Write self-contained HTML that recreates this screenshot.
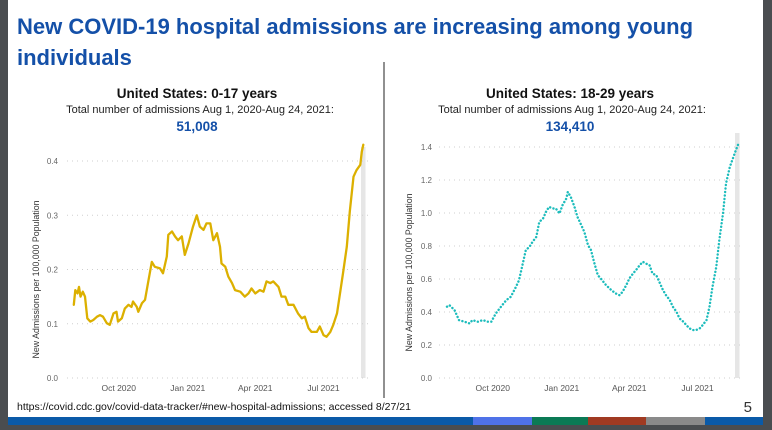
<!DOCTYPE html>
<html><head><meta charset="utf-8"><style>
html,body{margin:0;padding:0;background:#4a4d50;}
svg{display:block;font-family:"Liberation Sans",sans-serif;}
</style></head><body>
<svg width="772" height="430" viewBox="0 0 772 430">
<rect x="8" y="0" width="755" height="425" fill="#fff"/>
<text x="17" y="34" font-size="22" font-weight="bold" fill="#1450a8">New COVID-19 hospital admissions are increasing among young</text>
<text x="17" y="65" font-size="22" font-weight="bold" fill="#1450a8">individuals</text>
<line x1="384" y1="62" x2="384" y2="398" stroke="#222" stroke-width="1"/>

<text x="197" y="98" font-size="13.5" font-weight="bold" text-anchor="middle" fill="#111">United States: 0-17 years</text>
<text x="200" y="113" font-size="11" text-anchor="middle" fill="#222">Total number of admissions Aug 1, 2020-Aug 24, 2021:</text>
<text x="197" y="131" font-size="13.5" font-weight="bold" text-anchor="middle" fill="#1450a8">51,008</text>

<text x="570" y="98" font-size="13.5" font-weight="bold" text-anchor="middle" fill="#111">United States: 18-29 years</text>
<text x="572" y="113" font-size="11" text-anchor="middle" fill="#222">Total number of admissions Aug 1, 2020-Aug 24, 2021:</text>
<text x="570" y="131" font-size="13.5" font-weight="bold" text-anchor="middle" fill="#1450a8">134,410</text>

<g id="leftChart"></g>
<g id="rightChart"></g>

<text x="17" y="410" font-size="10.5" fill="#111">https://covid.cdc.gov/covid-data-tracker/#new-hospital-admissions; accessed 8/27/21</text>
<text x="752" y="412" font-size="15" text-anchor="end" fill="#333">5</text>
<rect x="8" y="417" width="755" height="8" fill="#0a5aa8"/>
<rect x="473" y="417" width="59" height="8" fill="#4f72e8"/>
<rect x="532" y="417" width="56" height="8" fill="#0b7a55"/>
<rect x="588" y="417" width="58" height="8" fill="#a03a22"/>
<rect x="646" y="417" width="59" height="8" fill="#8a8a8a"/>
</svg>
<script>
// days since Aug 1, 2020
const leftDays=[1,3,6,8,10,13,16,19,23,27,32,36,40,45,49,54,58,60,65,69,74,78,80,85,87,92,96,100,105,109,116,120,125,127,132,136,140,145,149,154,160,165,169,174,178,183,187,192,196,198,203,207,212,216,223,229,234,238,243,249,254,258,263,267,274,278,283,287,294,300,305,309,314,318,325,329,334,338,343,347,352,356,360,365,369,374,378,383,385,387];
const leftValues=[.135,.162,.156,.168,.150,.159,.150,.110,.104,.107,.113,.116,.113,.101,.098,.119,.122,.104,.110,.128,.135,.131,.141,.131,.122,.138,.144,.175,.214,.205,.202,.193,.224,.264,.270,.261,.254,.261,.227,.248,.279,.300,.279,.273,.285,.285,.254,.267,.242,.211,.205,.187,.175,.162,.159,.150,.156,.165,.156,.162,.159,.178,.175,.178,.168,.150,.150,.135,.135,.119,.110,.113,.092,.085,.085,.095,.079,.076,.085,.098,.119,.156,.193,.242,.307,.371,.383,.393,.417,.430];
const leftYTicks=[0.0,0.1,0.2,0.3,0.4];
const rightDays=[0,3,10,16,23,30,34,41,48,54,59,65,72,79,85,92,96,101,105,110,114,119,123,128,132,136,141,145,150,154,159,161,165,170,174,179,183,188,192,196,201,205,212,219,225,230,234,239,243,248,252,257,261,265,270,274,279,283,288,292,297,301,306,310,315,319,323,328,332,337,341,346,350,354,359,363,368,372,377,381,385,389];
const rightValues=[.432,.442,.412,.351,.341,.331,.351,.341,.351,.341,.341,.391,.432,.472,.492,.553,.593,.694,.775,.795,.825,.855,.946,.966,1.007,1.037,1.027,1.027,.997,1.047,1.087,1.128,1.097,1.037,.976,.926,.886,.805,.775,.704,.623,.603,.563,.533,.512,.502,.522,.563,.603,.633,.654,.684,.704,.694,.684,.633,.623,.583,.533,.502,.472,.432,.401,.361,.341,.321,.301,.290,.290,.301,.321,.351,.432,.553,.674,.835,.997,1.178,1.279,1.329,1.380,1.424];
const rightYTicks=[0.0,0.2,0.4,0.6,0.8,1.0,1.2,1.4];
const xTickLabels=["Oct 2020","Jan 2021","Apr 2021","Jul 2021"];
const xTickDays=[61,153,243,334];

const NS="http://www.w3.org/2000/svg";
function mk(tag,attrs,parent){const e=document.createElementNS(NS,tag);for(const k in attrs)e.setAttribute(k,attrs[k]);parent.appendChild(e);return e;}

function drawChart(g,cfg){
  const xS=d=>cfg.x0+d*0.75;
  const yS=v=>cfg.yBottom-(v/cfg.yMax)*(cfg.yBottom-cfg.yTop);
  const band=mk('rect',{x:xS(384),y:cfg.yTop-14,width:4.5,height:cfg.yBottom-cfg.yTop+14,fill:'#e6e6e6'},g);
  
  
  cfg.ticks.forEach(t=>{
    const y=yS(t);
    const gl=mk('line',{x1:cfg.gx1,x2:cfg.gx2,y1:y,y2:y,stroke:'#cfcfcf','stroke-width':1,'stroke-dasharray':'1 4'},g);
    
    
    const tl=mk('text',{x:cfg.tickX,y:y+3,'font-size':8,'text-anchor':'end',fill:'#666'},g);
    tl.textContent=t.toFixed(1);
    
    
  });
  xTickDays.forEach((d,i)=>{
    const xl=mk('text',{x:xS(d),y:cfg.yBottom+13,'font-size':8.5,'text-anchor':'middle',fill:'#555'},g);
    xl.textContent=xTickLabels[i];
    
    
  });
  const yt=mk('text',{x:0,y:0,'font-size':8.8,'text-anchor':'middle',fill:'#333',transform:`translate(${cfg.titleX},${(cfg.yTop+cfg.yBottom)/2+10}) rotate(-90)`},g);
  yt.textContent='New Admissions per 100,000 Population';
  
  
  const pts=cfg.days.map((d,i)=>xS(d).toFixed(1)+','+yS(cfg.vals[i]).toFixed(1)).join(' ');
  const attrs={points:pts,fill:'none',stroke:cfg.color,'stroke-width':cfg.sw,'stroke-linejoin':'round','stroke-linecap':'round'};
  if(cfg.dash)attrs['stroke-dasharray']=cfg.dash;
  const ln=mk('polyline',attrs,g);
  
  
}
drawChart(document.getElementById('leftChart'),{x0:73,yTop:161,yBottom:378,yMax:0.4,gx1:67,gx2:368,tickX:58,titleX:39,ticks:leftYTicks,days:leftDays,vals:leftValues,color:'#dcb000',sw:2.3});
drawChart(document.getElementById('rightChart'),{x0:447,yTop:147,yBottom:378,yMax:1.4,gx1:439,gx2:744,tickX:432,titleX:412,ticks:rightYTicks,days:rightDays,vals:rightValues,color:'#1cbcbc',sw:2.4,dash:'0.1 3.4'});
</script>
</body></html>
